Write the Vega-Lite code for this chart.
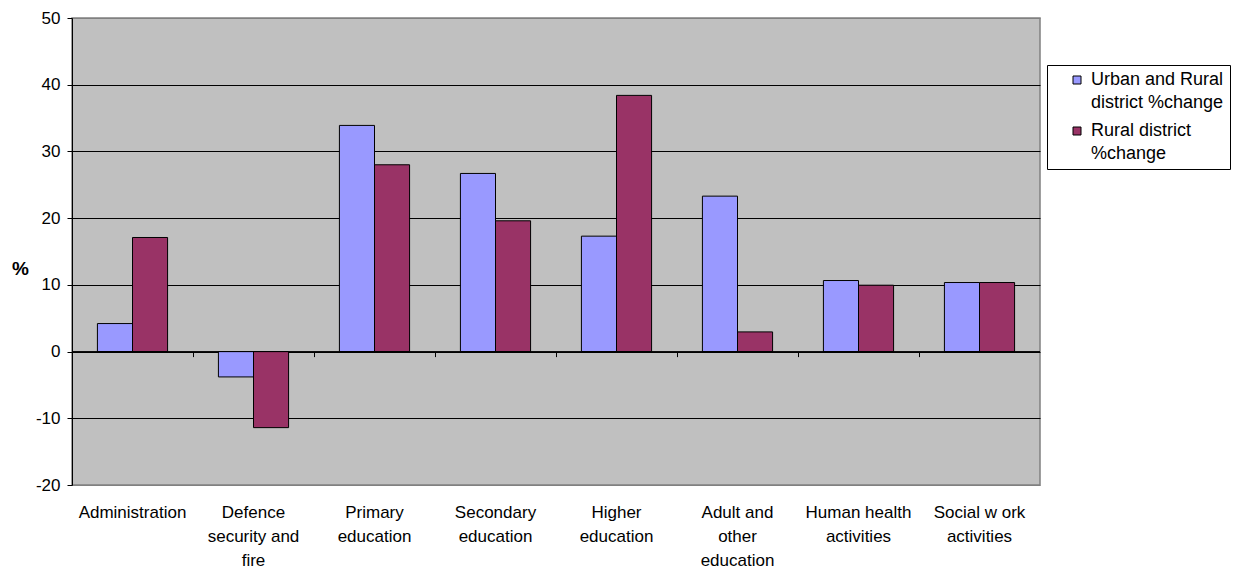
{
  "$schema": "https://vega.github.io/schema/vega-lite/v6.json",
  "autosize": {"type": "none"},
  "padding": {"left": 72, "top": 18, "right": 205, "bottom": 89},
  "width": 968,
  "height": 467,
  "background": "white",
  "config": {
    "font": "Liberation Sans",
    "view": {"fill": "#C0C0C0", "stroke": "#808080", "strokeWidth": 1.5}
  },
  "data": {
    "values": [
      {"category": "Administration", "series": "Urban and Rural district %change", "value": 4.2},
      {"category": "Administration", "series": "Rural district %change", "value": 17.1},
      {"category": "Defence|security and|fire", "series": "Urban and Rural district %change", "value": -3.8},
      {"category": "Defence|security and|fire", "series": "Rural district %change", "value": -11.4},
      {"category": "Primary|education", "series": "Urban and Rural district %change", "value": 33.9},
      {"category": "Primary|education", "series": "Rural district %change", "value": 28.0},
      {"category": "Secondary|education", "series": "Urban and Rural district %change", "value": 26.7},
      {"category": "Secondary|education", "series": "Rural district %change", "value": 19.6},
      {"category": "Higher|education", "series": "Urban and Rural district %change", "value": 17.3},
      {"category": "Higher|education", "series": "Rural district %change", "value": 38.4},
      {"category": "Adult and|other|education", "series": "Urban and Rural district %change", "value": 23.3},
      {"category": "Adult and|other|education", "series": "Rural district %change", "value": 2.95},
      {"category": "Human health|activities", "series": "Urban and Rural district %change", "value": 10.65},
      {"category": "Human health|activities", "series": "Rural district %change", "value": 9.95},
      {"category": "Social w ork|activities", "series": "Urban and Rural district %change", "value": 10.35},
      {"category": "Social w ork|activities", "series": "Rural district %change", "value": 10.35}
    ]
  },
  "resolve": {"axis": {"x": "independent"}},
  "layer": [
    {
      "mark": {"type": "bar", "stroke": "black", "strokeWidth": 1},
      "encoding": {
        "x": {
          "field": "category",
          "type": "nominal",
          "sort": null,
          "scale": {"paddingInner": 0.42, "paddingOuter": 0.21},
          "axis": {
            "title": null,
            "labelAngle": 0,
            "labelExpr": "split(datum.label, '|')",
            "labelFontSize": 17,
            "labelColor": "black",
            "labelLineHeight": 24,
            "labelPadding": 19,
            "labelBaseline": "top",
            "labelLimit": 200,
            "domain": false,
            "ticks": false,
            "grid": false
          }
        },
        "xOffset": {
          "field": "series",
          "type": "nominal",
          "sort": ["Urban and Rural district %change", "Rural district %change"]
        },
        "y": {
          "field": "value",
          "type": "quantitative",
          "scale": {"domain": [-20, 50], "nice": false, "zero": false},
          "axis": {
            "values": [-20, -10, 0, 10, 20, 30, 40, 50],
            "labelExpr": "toString(datum.value)",
            "title": "%",
            "titleAngle": 0,
            "titleFontSize": 19,
            "titleFontWeight": "bold",
            "titleColor": "black",
            "titleX": -52,
            "titleY": 250,
            "titleAlign": "center",
            "titleBaseline": "middle",
            "labelFontSize": 17,
            "labelColor": "black",
            "labelPadding": 7,
            "domainColor": "black",
            "tickColor": "black",
            "tickSize": 5,
            "grid": true,
            "gridColor": {"condition": {"test": "datum.value == 50 || datum.value == -20", "value": "#808080"}, "value": "black"},
            "gridOpacity": 1,
            "gridWidth": 1
          }
        },
        "color": {
          "field": "series",
          "type": "nominal",
          "scale": {
            "domain": ["Urban and Rural district %change", "Rural district %change"],
            "range": ["#9999FF", "#993366"]
          },
          "legend": {
            "title": null,
            "orient": "none",
            "legendX": 975,
            "legendY": 47,
            "symbolType": "square",
            "symbolSize": 64,
            "symbolStrokeColor": "black",
            "symbolStrokeWidth": 1,
            "symbolOffset": 15,
            "labelExpr": "datum.label == 'Urban and Rural district %change' ? ['Urban and Rural', 'district %change'] : ['Rural district', '%change']",
            "labelFontSize": 18,
            "labelColor": "black",
            "labelBaseline": "middle",
            "labelOffset": 5,
            "labelLimit": 220,
            "rowPadding": 10,
            "padding": 6,
            "strokeColor": "black",
            "fillColor": "white",
            "offset": 0,
            "encode": {"labels": {"update": {"lineHeight": {"value": 23}}}}
          }
        }
      }
    },
    {
      "mark": {"type": "bar", "opacity": 0},
      "encoding": {
        "x": {
          "field": "category",
          "type": "nominal",
          "sort": null,
          "axis": {
            "orient": "bottom",
            "offset": -133.4,
            "labels": false,
            "title": null,
            "domain": false,
            "grid": false,
            "ticks": true,
            "tickColor": "black",
            "tickSize": 5,
            "bandPosition": -0.362
          }
        },
        "y": {"field": "value", "type": "quantitative"}
      }
    },
    {
      "mark": {"type": "rule", "color": "black", "strokeWidth": 1},
      "data": {"values": [{"zero": 0}]},
      "encoding": {
        "y": {"field": "zero", "type": "quantitative"}
      }
    }
  ]
}
